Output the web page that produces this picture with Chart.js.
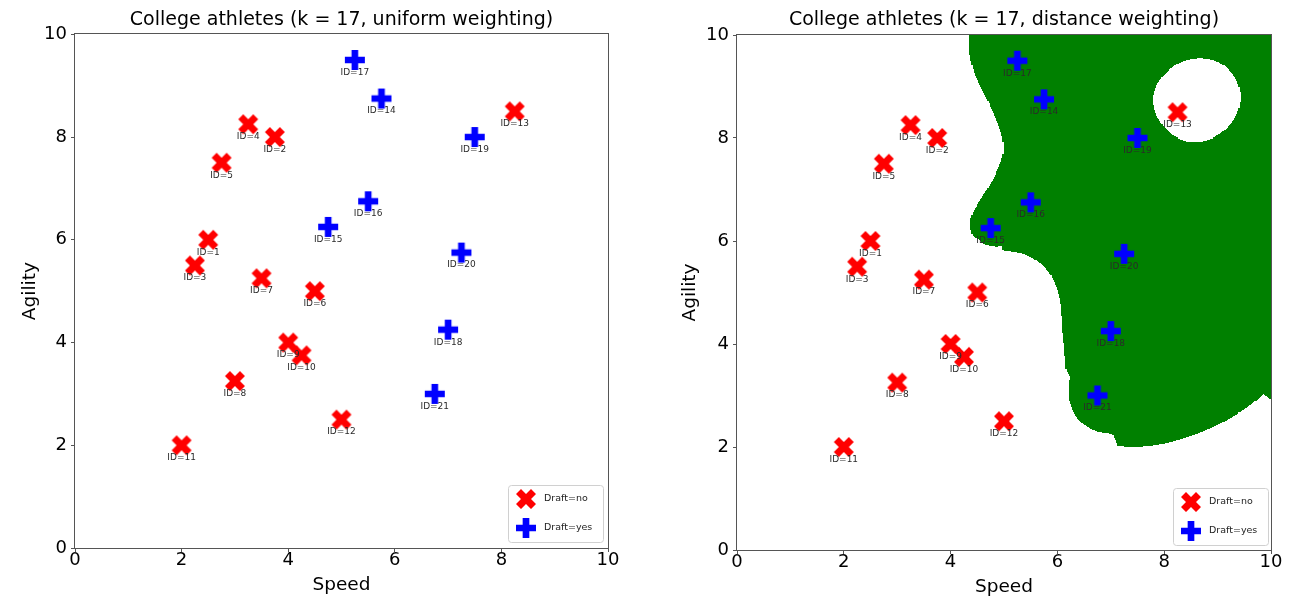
<!DOCTYPE html>
<html><head><meta charset="utf-8">
<script src="https://cdn.jsdelivr.net/npm/chart.js@4"></script>
<style>
html,body{margin:0;padding:0;background:#fff;}
#wrap{position:relative;width:1290px;height:599px;overflow:hidden;background:#fff;}
.c{position:absolute;top:0;height:599px;}
canvas{display:block;}
</style></head><body>
<div id="wrap">
<div class="c" style="left:0;width:645px"><canvas id="left" width="645" height="599"></canvas></div>
<div class="c" style="left:660px;width:630px"><canvas id="right" width="630" height="599"></canvas></div>
</div>
<script>
// ---- data ----
const ids = [1,2,3,4,5,6,7,8,9,10,11,12,13,14,15,16,17,18,19,20,21];
const speed = [2.5,3.75,2.25,3.25,2.75,4.5,3.5,3,4,4.25,2,5,8.25,5.75,4.75,5.5,5.25,7,7.5,7.25,6.75];
const agility = [6,8,5.5,8.25,7.5,5,5.25,3.25,4,3.75,2,2.5,8.5,8.75,6.25,6.75,9.5,4.25,8,5.75,3];
const draft = ['no','no','no','no','no','no','no','no','no','no','no','no','no','yes','yes','yes','yes','yes','yes','yes','yes'];
const classes = ['no','yes'];
const classLabels = ['Draft=no','Draft=yes'];
const tickValues = [0,2,4,6,8,10];
const kNeighbors = 17;
const titles = ['College athletes (k = 17, uniform weighting)','College athletes (k = 17, distance weighting)'];
const weightings = ['uniform','distance'];
const xTitle = 'Speed';
const yTitle = 'Agility';

const FONT = "'DejaVu Sans', sans-serif";
Chart.defaults.font.family = FONT;
Chart.defaults.color = '#000';

// ---- marker images (matplotlib 'X' and 'P') ----
function makeMarker(kind, color) {
  const S = 20, C = 12;
  const cv = document.createElement('canvas');
  cv.width = 24; cv.height = 24;
  const g = cv.getContext('2d');
  let pts;
  if (kind === 'X') {
    pts = [[-1,-2],[0,-1],[1,-2],[2,-1],[1,0],[2,1],[1,2],[0,1],[-1,2],[-2,1],[-1,0],[-2,-1]].map(p => [p[0]*S/4, p[1]*S/4]);
  } else {
    const a = S/6, b = S/2;
    pts = [[-a,-b],[a,-b],[a,-a],[b,-a],[b,a],[a,a],[a,b],[-a,b],[-a,a],[-b,a],[-b,-a],[-a,-a]];
  }
  g.fillStyle = color;
  g.beginPath();
  pts.forEach((p,i) => i ? g.lineTo(C+p[0], C+p[1]) : g.moveTo(C+p[0], C+p[1]));
  g.closePath();
  g.fill();
  return cv;
}
const markerImgs = { no: makeMarker('X', '#ff0000'), yes: makeMarker('P', '#0000ff') };

// ---- kNN classifier ----
function classify(x, y, weighting) {
  const d = [];
  for (let i = 0; i < speed.length; i++) {
    d.push([Math.hypot(speed[i]-x, agility[i]-y), draft[i]]);
  }
  d.sort((a,b) => a[0]-b[0]);
  let yes = 0, no = 0;
  for (let i = 0; i < kNeighbors; i++) {
    const w = weighting === 'distance' ? (d[i][0] === 0 ? 1e12 : 1/d[i][0]) : 1;
    if (d[i][1] === 'yes') yes += w; else no += w;
  }
  return yes > no ? 'yes' : 'no';
}

const knnRegion = {
  id: 'knnRegion',
  beforeDatasetsDraw(chart, args, opts) {
    const {ctx, chartArea: ca, scales: {x, y}} = chart;
    const N = 500, h = 10 / N;
    if (!chart.$grid) {
      const grid = [];
      for (let j = 0; j < N; j++) {
        const row = [];
        for (let i = 0; i < N; i++) row.push(classify((i+0.5)*h, (j+0.5)*h, opts.weighting) === 'yes');
        grid.push(row);
      }
      chart.$grid = grid;
    }
    ctx.save();
    ctx.beginPath(); ctx.rect(ca.left, ca.top, ca.right-ca.left, ca.bottom-ca.top); ctx.clip();
    ctx.fillStyle = '#008000';
    for (let j = 0; j < N; j++) {
      const yt = Math.floor(y.getPixelForValue((j+1)*h)), yb = Math.ceil(y.getPixelForValue(j*h));
      let start = -1;
      for (let i = 0; i <= N; i++) {
        const on = i < N && chart.$grid[j][i];
        if (on && start < 0) start = i;
        if (!on && start >= 0) {
          const x0 = Math.floor(x.getPixelForValue(start*h)), x1 = Math.ceil(x.getPixelForValue(i*h));
          ctx.fillRect(x0, yt, x1-x0, yb-yt);
          start = -1;
        }
      }
    }
    ctx.restore();
    // frame
    ctx.save();
    ctx.strokeStyle = '#555';
    ctx.lineWidth = 1;
    const l = Math.round(ca.left)-0.5, t = Math.round(ca.top)-0.5, r = Math.round(ca.right)+0.5, b = Math.round(ca.bottom)+0.5;
    ctx.strokeRect(l, t, r-l, b-t);
    ctx.restore();
  }
};

const idLabels = {
  id: 'idLabels',
  afterDatasetsDraw(chart) {
    const {ctx} = chart;
    ctx.save();
    ctx.font = "9px " + FONT;
    ctx.fillStyle = '#2a2a2a';
    ctx.textAlign = 'center';
    ctx.textBaseline = 'middle';
    chart.data.datasets.forEach((ds, di) => {
      const meta = chart.getDatasetMeta(di);
      meta.data.forEach((pt, k) => {
        ctx.fillText('ID=' + ds.ids[k], pt.x, pt.y + 12.5);
      });
    });
    ctx.restore();
  }
};

const boxLegend = {
  id: 'boxLegend',
  afterDraw(chart, args, opts) {
    const {ctx, chartArea: ca} = chart;
    const w = 95, hgt = 57;
    const r = ca.right - opts.insetX, b = ca.bottom - opts.insetY;
    const l = r - w, t = b - hgt;
    ctx.save();
    ctx.beginPath();
    if (ctx.roundRect) ctx.roundRect(l+0.5, t+0.5, w, hgt, 3); else ctx.rect(l+0.5, t+0.5, w, hgt);
    ctx.fillStyle = 'rgba(255,255,255,0.8)';
    ctx.fill();
    ctx.strokeStyle = '#d0d0d0';
    ctx.lineWidth = 1;
    ctx.stroke();
    ctx.font = "9.5px " + FONT;
    ctx.fillStyle = '#222';
    ctx.textAlign = 'left';
    ctx.textBaseline = 'middle';
    chart.data.datasets.forEach((ds, i) => {
      const cy = t + 14 + i * 29;
      const img = markerImgs[ds.cls];
      ctx.drawImage(img, l + 18 - img.width/2, cy - img.height/2);
      ctx.fillText(ds.label, l + 36, cy);
    });
    ctx.restore();
  }
};

function makeChart(canvasId, idx, cfg) {
  const datasets = classes.map((c, ci) => {
    const idxs = ids.map((_, i) => i).filter(i => draft[i] === c);
    return {
      label: classLabels[ci],
      cls: c,
      ids: idxs.map(i => ids[i]),
      data: idxs.map(i => ({x: speed[i], y: agility[i]})),
      pointStyle: markerImgs[c],
      pointRadius: 10,
      backgroundColor: c === 'no' ? '#ff0000' : '#0000ff',
      borderColor: c === 'no' ? '#ff0000' : '#0000ff'
    };
  });
  return new Chart(document.getElementById(canvasId), {
    type: 'scatter',
    data: { datasets },
    options: {
      responsive: false,
      animation: false,
      devicePixelRatio: 1,
      layout: { padding: { left: 0, right: cfg.padRight, top: 0, bottom: 0 } },
      plugins: {
        legend: { display: false },
        tooltip: { enabled: false },
        title: {
          display: true, text: titles[idx], fullSize: false,
          font: { size: 19, weight: 'normal' }, color: '#000',
          padding: { top: 8.6, bottom: cfg.titlePadBottom }
        },
        knnRegion: { weighting: weightings[idx] },
        boxLegend: { insetX: cfg.legInsetX, insetY: cfg.legInsetY }
      },
      scales: {
        x: {
          type: 'linear', min: 0, max: 10,
          afterBuildTicks: s => { s.ticks = tickValues.map(v => ({value: v})); },
          ticks: { font: { size: 18 }, color: '#000', padding: -2, maxRotation: 0 },
          grid: { drawOnChartArea: false, drawTicks: true, tickLength: 4, color: '#555' },
          border: { display: false },
          title: { display: true, text: xTitle, font: { size: 18.5 }, color: '#000', padding: { top: 0, bottom: cfg.xTitlePadBottom } },
          afterFit: s => { s.height = cfg.xHeight; }
        },
        y: {
          type: 'linear', min: 0, max: 10,
          afterBuildTicks: s => { s.ticks = tickValues.map(v => ({value: v})); },
          ticks: { font: { size: 18 }, color: '#000', padding: 4 },
          grid: { drawOnChartArea: false, drawTicks: true, tickLength: 4, color: '#555' },
          border: { display: false },
          title: { display: true, text: yTitle, font: { size: 18.5 }, color: '#000', padding: { top: 19, bottom: 0 } },
          afterFit: s => { s.width = cfg.yWidth; }
        }
      }
    },
    plugins: [knnRegion, idLabels, boxLegend]
  });
}

makeChart('left', 0, { padRight: 37, titlePadBottom: 2.9, xHeight: 51, yWidth: 75, xTitlePadBottom: 3, legInsetX: 5, legInsetY: 6 });
makeChart('right', 1, { padRight: 19, titlePadBottom: 3.6, xHeight: 49, yWidth: 77, xTitlePadBottom: 0.5, legInsetX: 3, legInsetY: 5 });
</script>
</body></html>
